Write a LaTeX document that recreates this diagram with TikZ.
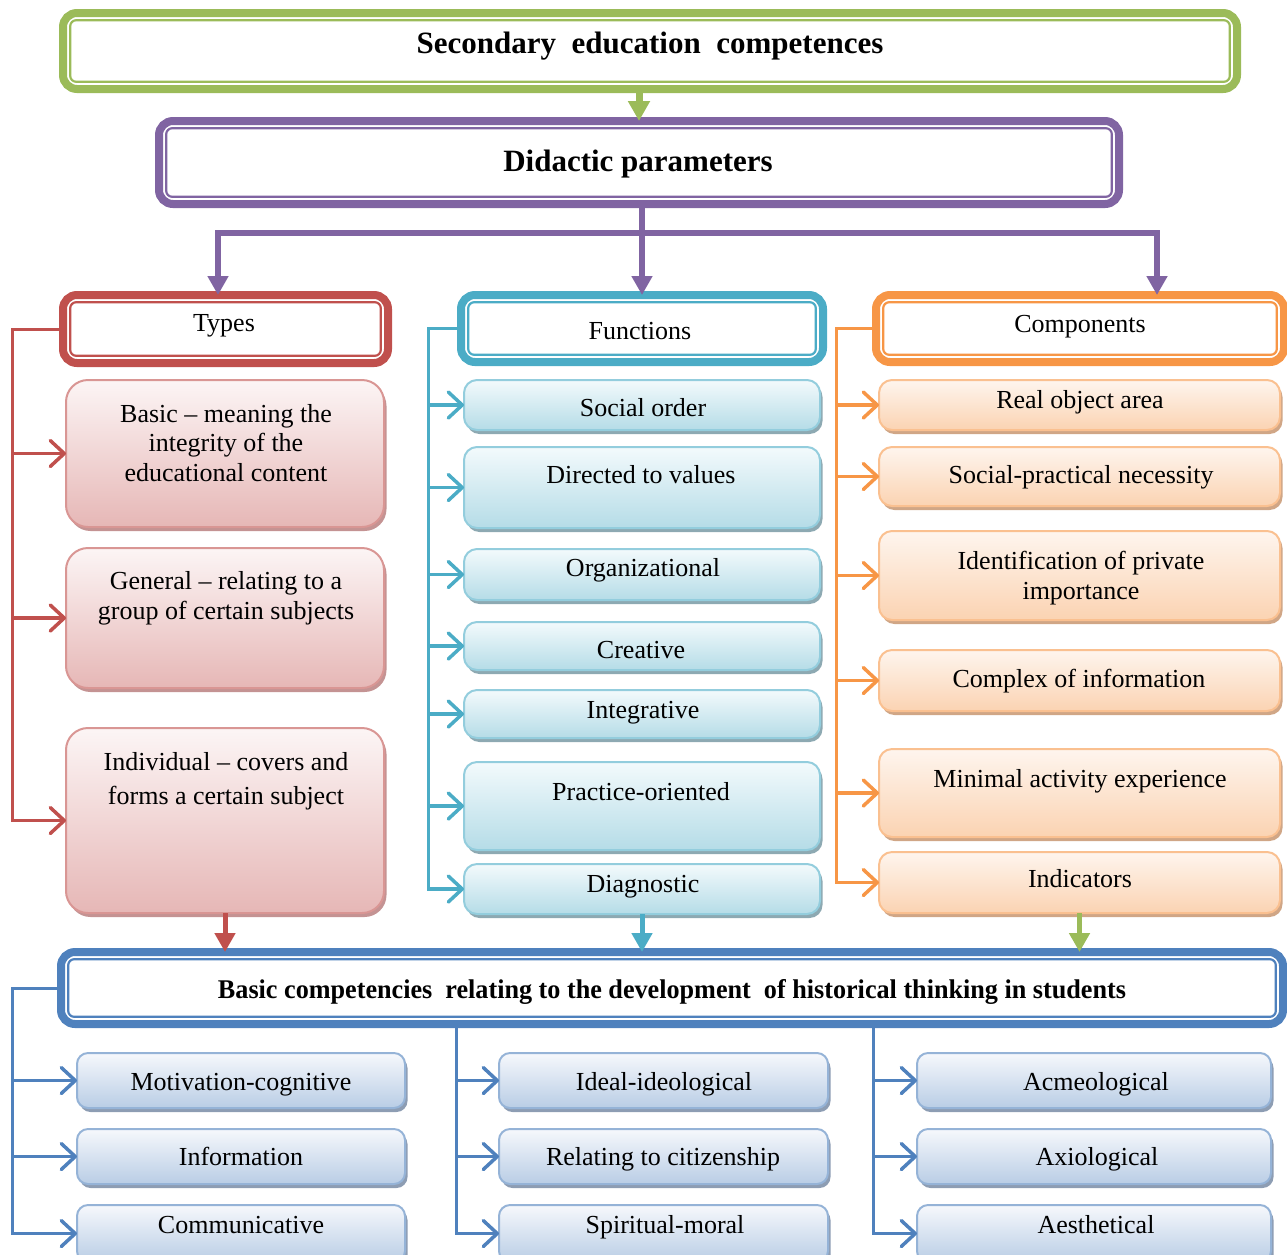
\documentclass[tikz,border=0pt]{standalone}
\usepackage{fontspec}
\setmainfont{Liberation Serif}
\usetikzlibrary{arrows.meta,shadows}
\definecolor{cgreen}{HTML}{9BBB59}
\definecolor{cpurple}{HTML}{8064A2}
\definecolor{cred}{HTML}{C0504D}
\definecolor{cteal}{HTML}{4BACC6}
\definecolor{corange}{HTML}{F79646}
\definecolor{cblue}{HTML}{4F81BD}
\definecolor{pinkT}{HTML}{FCF5F5}
\definecolor{pinkB}{HTML}{E6B7B6}
\definecolor{pinkD}{HTML}{D99694}
\definecolor{pinkS}{HTML}{C49393}
\definecolor{tealT}{HTML}{F3FAFC}
\definecolor{tealB}{HTML}{B5DCE7}
\definecolor{tealD}{HTML}{93CDDD}
\definecolor{tealS}{HTML}{8DA9B2}
\definecolor{orT}{HTML}{FEF5EE}
\definecolor{orB}{HTML}{FBD3B2}
\definecolor{orD}{HTML}{FAC090}
\definecolor{orS}{HTML}{D0A686}
\definecolor{blT}{HTML}{F6F8FC}
\definecolor{blB}{HTML}{B9CDE5}
\definecolor{blD}{HTML}{95B3D7}
\definecolor{blS}{HTML}{8D9DB3}
\newcommand\mst{\rule[-6pt]{0pt}{24pt}}
\newcommand\mkbox[6]{\node[#2, minimum width={(#5)-(#3)}, minimum height={(#6)-(#4)}] (#1) at ({((#3)+(#5))/2},{((#4)+(#6))/2}) {};}
\newcommand\innerl[2]{\draw[#2, line width=2.2pt, rounded corners=6pt] ([shift={(7.2pt,-7.2pt)}]#1.north west) rectangle ([shift={(-7.2pt,7.2pt)}]#1.south east);}
\tikzset{
  hdrbox/.style={draw=#1, line width=8pt, rounded corners=14pt, fill=white, inner sep=0pt, outer sep=0pt},
  kid/.style n args={5}{draw=#3, line width=2pt, rounded corners=#4, top color=#1, bottom color=#2, inner sep=0pt, outer sep=0pt,
     drop shadow={shadow xshift=2.5pt, shadow yshift=-4pt, fill=#5, opacity=1}},
  pinkbox/.style={kid={pinkT}{pinkB}{pinkD}{22pt}{pinkS}},
  tealbox/.style={kid={tealT}{tealB}{tealD}{13pt}{tealS}},
  orbox/.style={kid={orT}{orB}{orD}{13pt}{orS}},
  blbox/.style={kid={blT}{blB}{blD}{11pt}{blS}},
  txt/.style={font=\fontsize{26}{29.5}\selectfont, align=center, inner sep=0pt},
  hdtxt/.style={font=\bfseries\fontsize{31}{36}\selectfont, anchor=base, inner sep=0pt},
  trunk/.style={draw=#1, line width=3pt, line cap=rect},
  barbarr/.style={draw=#1, line width=3.5pt, -{Straight Barb[length=14pt,width=26pt,round]}},
  hdarr/.style={draw=#1, line width=5.5pt, -{Triangle[length=19pt,width=20pt]}},
  downarr/.style={draw=#1, line width=5pt, -{Triangle[length=19pt,width=20pt]}},
}
\begin{document}
\begin{tikzpicture}[x=1pt,y=-1pt]
\useasboundingbox (0,0) rectangle (1287,1254);
\clip (0,0) rectangle (1287,1254);

% ---------- header boxes
\mkbox{green}{hdrbox=cgreen}{63}{13}{1237}{89}
\innerl{green}{cgreen}
\node[hdtxt] (tgreen) at (650,53) {Secondary\ \ education\ \ competences};

\mkbox{purple}{hdrbox=cpurple}{159}{121}{1119}{204}
\innerl{purple}{cpurple}
\node[hdtxt] (tpurple) at (638,171) {Didactic parameters};

\mkbox{types}{hdrbox=cred}{63}{295}{388}{363}
\innerl{types}{cred}
\node[txt] (ttypes) at (224,325) {\mst Types};

\mkbox{func}{hdrbox=cteal}{461}{295}{823}{362}
\innerl{func}{cteal}
\node[txt] (tfunc) at (640,333) {\mst Functions};

\mkbox{comp}{hdrbox=corange}{876}{295}{1284}{362}
\innerl{comp}{corange}
\node[txt] (tcomp) at (1080,326) {\mst Components};

\mkbox{basecomp}{hdrbox=cblue}{61}{952}{1283}{1024}
\innerl{basecomp}{cblue}
\node[anchor=base, inner sep=0pt] (tbase) at (672,998) {\resizebox{908pt}{\height}{\bfseries\fontsize{27}{30}\selectfont Basic competencies\ \ relating to the development\ \ of historical thinking in students}};

% ---------- Types children
\mkbox{basic}{pinkbox}{66}{380}{384}{527}
\node[txt] (tbasic) at (226,445.5) {\mst Basic -- meaning the\\\mst integrity of the\\\mst educational content};
\mkbox{general}{pinkbox}{66}{548}{384}{688}
\node[txt] (tgeneral) at (226,598.5) {\mst General\ -- relating to a\\\mst group of certain subjects};
\mkbox{indiv}{pinkbox}{66}{728}{384}{913}
\node[txt, font=\fontsize{26}{34}\selectfont] (tindiv) at (226,781) {\mst Individual -- covers and\\\mst forms a certain subject};

% ---------- Functions children
\mkbox{social}{tealbox}{464}{380}{820}{430}
\node[txt] (tsocial) at (643,410) {\mst Social order};
\mkbox{directed}{tealbox}{464}{447}{820}{528}
\node[txt] (tdirected) at (641,477) {\mst Directed to values};
\mkbox{org}{tealbox}{464}{549}{820}{600}
\node[txt] (torg) at (643,570) {\mst Organizational};
\mkbox{creative}{tealbox}{464}{622}{820}{670}
\node[txt] (tcreative) at (641,652) {\mst Creative};
\mkbox{integ}{tealbox}{464}{690}{820}{738}
\node[txt] (tinteg) at (643,712) {\mst Integrative};
\mkbox{practice}{tealbox}{464}{762}{820}{850}
\node[txt] (tpractice) at (641,794) {\mst Practice-oriented};
\mkbox{diag}{tealbox}{464}{864}{820}{914}
\node[txt] (tdiag) at (643,886) {\mst Diagnostic};

% ---------- Components children
\mkbox{real}{orbox}{879}{380}{1280}{430}
\node[txt] (treal) at (1080,402) {\mst Real object area};
\mkbox{socprac}{orbox}{879}{447}{1280}{506}
\node[txt] (tsocprac) at (1081,477) {\mst Social-practical necessity};
\mkbox{ident}{orbox}{879}{531}{1280}{620}
\node[txt] (tident) at (1081,578.5) {\mst Identification of private\\\mst importance};
\mkbox{complex}{orbox}{879}{650}{1280}{711}
\node[txt] (tcomplex) at (1079,681) {\mst Complex\ of information};
\mkbox{minimal}{orbox}{879}{749}{1280}{837}
\node[txt] (tminimal) at (1080,781) {\mst Minimal\ activity\ experience};
\mkbox{indic}{orbox}{879}{852}{1280}{913}
\node[txt] (tindic) at (1080,881) {\mst Indicators};

% ---------- bottom children
\mkbox{m1}{blbox}{77}{1053}{405}{1108}
\node[txt] (tm1) at (241,1084) {\mst Motivation-cognitive};
\mkbox{m2}{blbox}{77}{1129}{405}{1184}
\node[txt] (tm2) at (241,1159) {\mst Information};
\mkbox{m3}{blbox}{77}{1205}{405}{1262}
\node[txt] (tm3) at (241,1227) {\mst Communicative};
\mkbox{s1}{blbox}{499}{1053}{828}{1108}
\node[txt] (ts1) at (664,1084) {\mst Ideal-ideological};
\mkbox{s2}{blbox}{499}{1129}{828}{1184}
\node[txt] (ts2) at (663,1159) {\mst Relating\ to citizenship};
\mkbox{s3}{blbox}{499}{1205}{828}{1262}
\node[txt] (ts3) at (665,1227) {\mst Spiritual-moral};
\mkbox{a1}{blbox}{917}{1053}{1271}{1108}
\node[txt] (ta1) at (1096,1084) {\mst Acmeological};
\mkbox{a2}{blbox}{917}{1129}{1271}{1184}
\node[txt] (ta2) at (1097,1159) {\mst Axiological};
\mkbox{a3}{blbox}{917}{1205}{1271}{1262}
\node[txt] (ta3) at (1096,1227) {\mst Aesthetical};

% ---------- connectors: top
\draw[draw=cgreen, line width=7pt, -{Triangle[length=20pt,width=21pt]}] (green.south -| purple.north) -- (purple.north);
\coordinate (pL) at (218,233);
\coordinate (pR) at (1157,233);
\draw[trunk=cpurple, line width=5.5pt] (pL) -- (pR);
\draw[hdarr=cpurple] (purple.south -| func.north) -- (func.north);
\draw[hdarr=cpurple] (pL) -- (pL |- types.north);
\draw[hdarr=cpurple] (pR) -- (pR |- comp.north);

% ---------- red trunk
\coordinate (rx) at (12,0);
\draw[trunk=cred] (types.west) -| (indiv.west -| rx);
\foreach \n in {basic,general,indiv} \draw[barbarr=cred] (\n.west -| rx) -- (\n.west);

% ---------- teal trunk
\coordinate (tx) at (428,0);
\draw[trunk=cteal] (func.west) -| (diag.west -| tx);
\foreach \n in {social,directed,org,creative,integ,practice,diag} \draw[barbarr=cteal] (\n.west -| tx) -- (\n.west);

% ---------- orange trunk
\coordinate (ox) at (836,0);
\draw[trunk=corange] (comp.west) -| (indic.west -| ox);
\foreach \n in {real,socprac,ident,complex,minimal,indic} \draw[barbarr=corange] (\n.west -| ox) -- (\n.west);

% ---------- down arrows
\draw[downarr=cred] (indiv.south) -- (indiv.south |- basecomp.north);
\draw[downarr=cteal] (diag.south) -- (diag.south |- basecomp.north);
\draw[downarr=cgreen] (indic.south) -- (indic.south |- basecomp.north);

% ---------- blue trunks
\coordinate (bx1) at (12,0);
\coordinate (bx2) at (456,0);
\coordinate (bx3) at (873,0);
\draw[trunk=cblue] (basecomp.west) -| (m3.west -| bx1);
\draw[trunk=cblue] (basecomp.south -| bx2) -- (s3.west -| bx2);
\draw[trunk=cblue] (basecomp.south -| bx3) -- (a3.west -| bx3);
\foreach \n in {m1,m2,m3} \draw[barbarr=cblue] (\n.west -| bx1) -- (\n.west);
\foreach \n in {s1,s2,s3} \draw[barbarr=cblue] (\n.west -| bx2) -- (\n.west);
\foreach \n in {a1,a2,a3} \draw[barbarr=cblue] (\n.west -| bx3) -- (\n.west);
\end{tikzpicture}
\end{document}
